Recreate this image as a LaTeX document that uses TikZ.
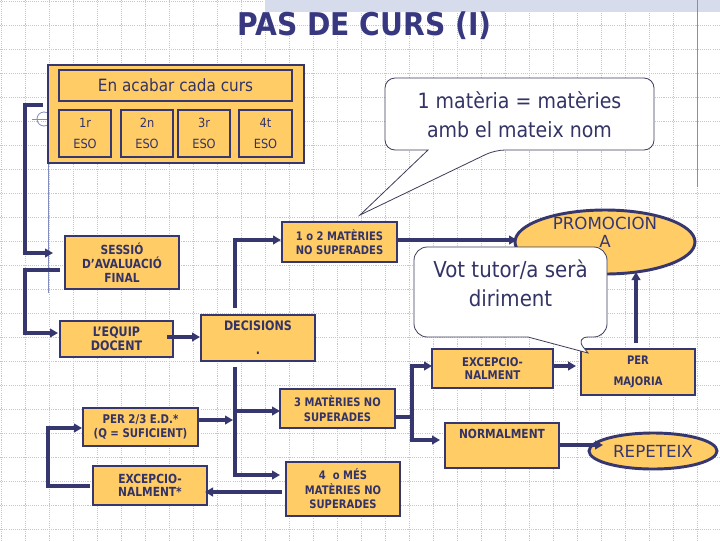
\documentclass[tikz,border=0pt]{standalone}
\usepackage{fontspec}
\setmainfont{DejaVu Sans}
\newfontfamily\tah[FakeStretch=0.9]{DejaVu Sans}
\newfontfamily\tahb[FakeStretch=0.85]{DejaVu Sans Bold}
\usetikzlibrary{arrows.meta,calc,shapes.geometric}
\definecolor{navy}{RGB}{55,55,112}
\definecolor{boxfill}{RGB}{255,204,102}
\definecolor{txt}{RGB}{51,51,102}
\definecolor{ttl}{RGB}{56,56,128}
\definecolor{gridc}{RGB}{196,198,206}
\definecolor{bandc}{RGB}{214,220,236}
\definecolor{deco}{RGB}{130,140,190}
\definecolor{callc}{RGB}{60,60,90}
\begin{document}
\begin{tikzpicture}[x=0.75pt,y=-0.75pt,
 sz/.style 2 args={minimum width=#1*0.75pt,minimum height=#2*0.75pt},
 fs/.style 2 args={font=\tah\fontsize{#1}{#2}\selectfont},
 fb/.style 2 args={font=\tahb\fontsize{#1}{#2}\selectfont},
 box/.style={draw=navy,line width=2.2pt,fill=boxfill,inner sep=0pt,outer sep=0pt,align=center,text=txt},
 ell/.style={ellipse,draw=navy,line width=2.2pt,fill=boxfill,inner sep=0pt,outer sep=0pt,text=navy},
 conn/.style={draw=navy,line width=2.6pt,-{Triangle[length=6pt,width=6.5pt]}},
 plain/.style={draw=navy,line width=2.6pt},
 gridline/.style={draw=gridc,line width=0.5pt,dash pattern=on 0.8pt off 0.8pt},
 callout/.style={draw=callc,line width=0.6pt,fill=white},
 ctext/.style={text=txt,align=center},
 decoline/.style={draw=deco,line width=0.6pt}
]
\useasboundingbox (0,0) rectangle (720,540);
\fill[white] (0,0) rectangle (720,540);
% grid
\foreach \i in {0,...,29} \draw[gridline] ({1+24*\i},0) -- ({1+24*\i},540);
\foreach \i in {0,...,22} \draw[gridline] (0,{1+24*\i}) -- (720,{1+24*\i});
% top band and decorations
\fill[bandc] (265,0) rectangle (720,12);
\draw[decoline] (697,0) -- (697,187);
\draw[decoline] (48,119) -- (48,293);
\draw[decoline] (32,119) -- (48,119);
\draw[decoline] (44,119) circle[radius=5.25pt];
% title
\node[font=\tah\bfseries\fontsize{23.5}{26}\selectfont,text=ttl,anchor=base] (title) at (364.5,35) {PAS DE CURS (I)};
% top group
\node[box,sz={256}{98}] (outer) at (176,114) {};
\node[box,sz={233}{31},fs={12.7}{14}] (head) at (175.5,85.5) {En acabar cada curs};
\node[box,sz={52}{47},fs={9.5}{15.75}] (eso1) at (85,133.5) {1r\\ESO};
\node[box,sz={52}{47},fs={9.5}{15.75}] (eso2) at (147,133.5) {2n\\ESO};
\node[box,sz={52}{47},fs={9.5}{15.75}] (eso3) at (204,133.5) {3r\\ESO};
\node[box,sz={53}{47},fs={9.5}{15.75}] (eso4) at (265.5,133.5) {4t\\ESO};
% flow boxes
\node[box,sz={114}{53},fb={9.4}{10.5}] (sessio) at (122,262.5) {SESSIÓ\\D’AVALUACIÓ\\FINAL};
\node[box,sz={113}{36},fb={9.8}{10.5}] (equip) at (116.5,339) {L’EQUIP\\DOCENT};
\node[box,sz={114}{46},fb={9.8}{18}] (decisions) at (258,338) {DECISIONS\\.};
\node[box,sz={115}{40},fb={8.8}{10.5}] (unodos) at (339.5,242) {1 o 2 MATÈRIES\\NO SUPERADES};
\node[box,sz={115}{39},fb={8.8}{10.8}] (tres) at (337.5,408.5) {3 MATÈRIES NO\\SUPERADES};
\node[box,sz={114}{54},fb={8.8}{10.8}] (quatre) at (343,489) {4~~o MÉS\\MATÈRIES NO\\SUPERADES};
\node[box,sz={115}{38},fb={9}{10}] (per23) at (140.5,427) {PER 2/3 E.D.*\\(Q = SUFICIENT)};
\node[box,sz={114}{39},fb={9.4}{10.2}] (excep1) at (150,485.5) {EXCEPCIO-\\NALMENT*};
\node[box,sz={121}{39},fb={9}{9.6}] (excep2) at (492.5,368.5) {EXCEPCIO-\\NALMENT};
\node[box,sz={114}{46},fb={8.8}{16}] (majoria) at (638,372) {PER\\MAJORIA};
\node[box,sz={114}{45},fb={9.4}{17.25}] (normal) at (502,445.5) {NORMALMENT\\\mbox{}};
% ellipses
\node[ell,sz={180}{64}] (promo) at (605,242) {};
\node[font=\fontsize{12.5}{13.5}\selectfont,text=navy,align=center] (promotxt) at (605,232.5) {PROMOCION\\A};
\node[ell,sz={128}{36},font=\fontsize{12.5}{14}\selectfont] (repeteix) at (653,451) {REPETEIX};
% connectors
\draw[conn] ($(outer.west)+(-5,-9)$) -- ++(-18,0) |- ($(sessio.west)+(-12,-9.5)$);
\draw[conn] ($(sessio.west)+(-5,7.5)$) -- ++(-35,0) |- ($(equip.west)+(-2,-6)$);
\draw[conn] ($(equip.east)+(-6,-2)$) -- ($(decisions.west)+(-1,-1)$);
\draw[conn] ($(decisions.north)+(-23,-7)$) |- ($(unodos.west)+(-1,-2)$);
\draw[conn] ($(unodos.east)+(0,-2)$) -- ($(promo.west)+(2,-2)$);
\draw[conn] ($(decisions.south)+(-23,6)$) |- ($(quatre.west)+(-6,-14)$);
\coordinate (v1) at ($(decisions.south)+(-23,50)$);
\draw[conn] (v1) -- ($(tres.west)+(0,2.5)$);
\draw[conn] ($(per23.east)+(0,-7)$) -- ($(per23.east)+(35,-7)$);
\draw[conn] ($(quatre.west)+(-4,3)$) -- ($(excep1.east)+(-2,6.5)$);
\draw[conn] ($(excep1.west)+(-3,0.5)$) -- ++(-42,0) |- ($(per23.west)+(-1,1)$);
\coordinate (v2) at ($(tres.east)+(17,8.5)$);
\draw[plain] ($(tres.east)+(0,8.5)$) -- (v2);
\draw[conn] (v2) |- ($(excep2.west)+(0,-2.5)$);
\draw[conn] (v2) |- ($(normal.west)+(-5,-5.5)$);
\draw[conn] ($(excep2.east)+(0,-2.5)$) -- ($(majoria.west)+(-5,-6)$);
\draw[conn] ($(majoria.north)+(-2,-6)$) -- ($(majoria.north)+(-2,-77)$);
\draw[conn] ($(normal.east)+(0,-0.5)$) -- ($(repeteix.west)+(14,-6)$);
% callouts
\draw[callout,rounded corners=7.5pt] (428,150) -- (385,150) -- (385,78) -- (654,78) -- (654,150) -- (495,150) [sharp corners] -- (360,215) -- cycle;
\node[ctext,fs={15.8}{21.75}] (note1) at (519.5,115) {1 matèria = matèries\\amb el mateix nom};
\draw[callout,rounded corners=10pt] (528,337) -- (414,337) -- (414,247) -- (607,247) -- (607,337) -- (575,337) [sharp corners] -- (588,353) -- cycle;
\node[ctext,fs={16.5}{21.75}] (note2) at (510.5,283) {Vot tutor/a serà\\diriment};
\end{tikzpicture}
\end{document}
